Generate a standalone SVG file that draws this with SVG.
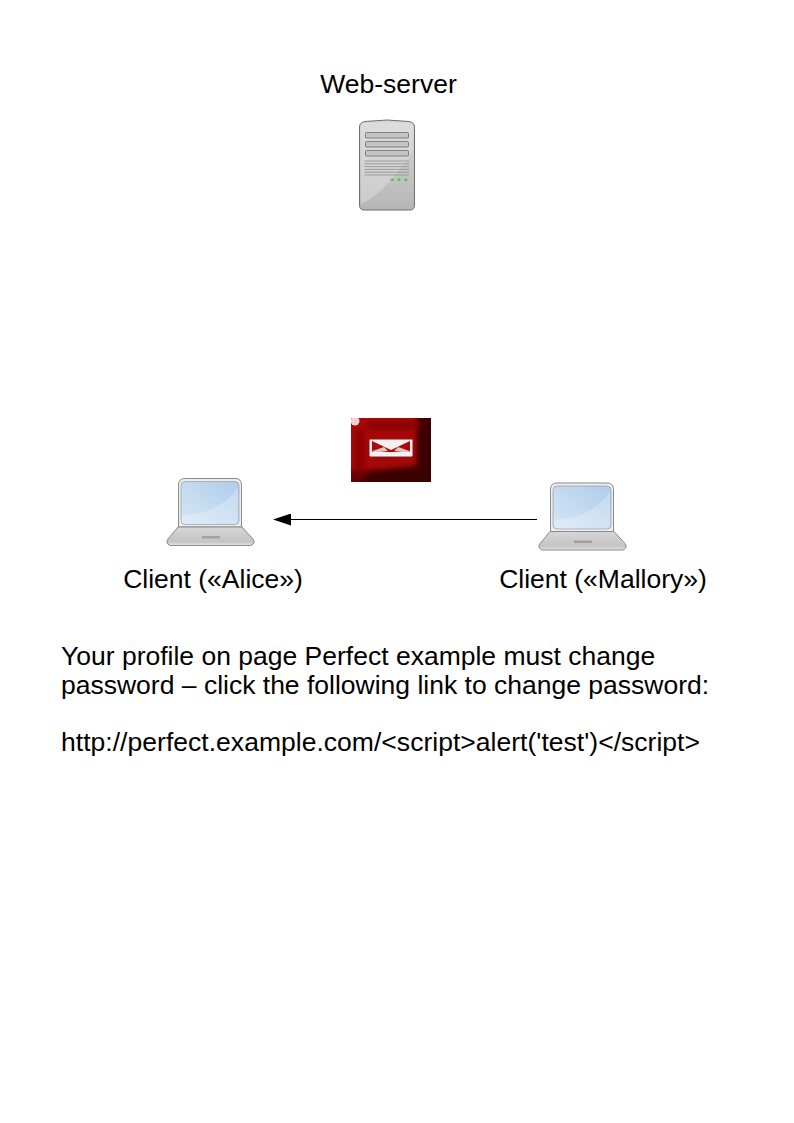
<svg xmlns="http://www.w3.org/2000/svg" width="794" height="1123" viewBox="0 0 794 1123">
<style>
text{font-family:"Liberation Sans",Arial,sans-serif;font-size:26.5px;fill:#000}
.l{fill:none;stroke:#8f8f8f;stroke-width:.8}
.slot{fill:#c4c4c4;stroke:#777;stroke-width:.9}
.led{fill:#58c058;stroke:#a8d8a8;stroke-width:.5}
</style>
<defs>
<linearGradient id="srv" x1="0" y1="0" x2="0" y2="1"><stop offset="0" stop-color="#d8d8d8"/><stop offset="1" stop-color="#b6b6b6"/></linearGradient>
<linearGradient id="srv2" x1="0" y1="0" x2="0" y2="1"><stop offset="0" stop-color="#b0b0b0"/><stop offset="1" stop-color="#8e8e8e"/></linearGradient>
<linearGradient id="scr" x1="0" y1="1" x2="1" y2="0"><stop offset="0" stop-color="#d6e6f5"/><stop offset="1" stop-color="#aecdea"/></linearGradient>
<linearGradient id="base" x1="0" y1="0" x2="0" y2="1"><stop offset="0" stop-color="#d6d6d6"/><stop offset=".8" stop-color="#c4c4c4"/><stop offset="1" stop-color="#e6e6e6"/></linearGradient>
<filter id="soft" x="-10%" y="-10%" width="120%" height="120%"><feGaussianBlur stdDeviation="2.500"/></filter>
<filter id="soft2" x="-10%" y="-10%" width="120%" height="120%"><feGaussianBlur stdDeviation=".5"/></filter>
<clipPath id="msg"><rect x="351" y="418" width="80" height="64"/></clipPath>
<marker id="ah" markerUnits="userSpaceOnUse" markerWidth="18" markerHeight="12" refX="0" refY="6" orient="auto"><path d="M0 0L18 6L0 12Z" fill="#000"/></marker>
<g id="laptop">
<path d="M12.500 49V7Q12.500 .5 19 .5H69Q75.500 .5 75.500 7V49Z" fill="#eeeeee" stroke="#8a8a8a"/>
<rect x="15" y="3.500" width="58" height="43" rx="4" fill="url(#scr)" stroke="#9a9a9a" stroke-width=".7"/>
<path d="M16 37C38 37 60 28 72 9V42Q72 46 68 46H20Q16 46 16 42Z" fill="#fff" opacity=".25"/>
<path d="M12 49H76L87 61Q90 65 85 67.500H4Q-1 65 2 61Z" fill="url(#base)" stroke="#8a8a8a"/>
<rect x="36" y="58" width="18" height="2.500" fill="#a2a2a2"/>
</g>
</defs>
<rect width="794" height="1123" fill="#fff"/>
<g id="connectors">
<line x1="537" y1="519.500" x2="291" y2="519.500" stroke="#000" stroke-width="1" marker-end="url(#ah)"/>
</g>
<g id="web-server">
<text x="388.500" y="93" text-anchor="middle">Web-server</text>
<path d="M359.500 127Q359.500 122.500 365 121.500Q387 118.500 409 121.500Q414.500 122.500 414.500 127V205Q414.500 210 410 210H364Q359.500 210 359.500 205Z" fill="url(#srv)" stroke="#6f6f6f"/>
<path d="M361 207V150L361 205Q385 198 398 175Q407 160 413 150V205Q413 208 410 208H363Q361 208 361 207Z" fill="url(#srv2)" opacity="0"/>
<path d="M361 204V127Q361 123 365 123H409Q413 123 413 127V150Q402 168 388 183Q376 197 361 204Z" fill="#e4e4e4" opacity=".45"/>
<rect x="365.500" y="132.500" width="43" height="5.500" rx="1" class="slot"/>
<rect x="365.500" y="141.500" width="43" height="5.500" rx="1" class="slot"/>
<rect x="365.500" y="150.500" width="43" height="5.500" rx="1" class="slot"/>
<path class="l" d="M364.500 161H409M364.500 163.800H409M364.500 166.600H409M364.500 169.400H409M364.500 172.200H409M364.500 175H409"/>
<circle cx="392.300" cy="179.700" r="1.800" class="led"/><circle cx="399" cy="179.700" r="1.800" class="led"/><circle cx="405.800" cy="179.700" r="1.800" class="led"/>
</g>
<g id="message">
<g clip-path="url(#msg)">
<rect x="351" y="418" width="80" height="64" fill="#a50808"/>
<g filter="url(#soft)">
<path d="M417 412H436V488H350V470H380L417 466Z" fill="#3a0000"/>
<path d="M346 470H372L350 490H346Z" fill="#6a0202"/>
<path d="M356 430H364V468H356Z" fill="#8a0404"/>
<path d="M368 422H420V429H368Z" fill="#860404"/>
</g>
<circle cx="355" cy="421" r="4.500" fill="#f6cfcf" filter="url(#soft2)"/>
</g>
<g filter="url(#soft2)">
<rect x="369.500" y="439.500" width="43" height="16.500" fill="#f6f0f0"/>
<path d="M372 441L391 450L410 441V452H372Z" fill="#a50808"/>
<path d="M372.500 451L384 447L388 451L372.500 453ZM409.500 451L398 447L394 451L409.500 453Z" fill="#f6f0f0" opacity=".8"/>
<path d="M370 456.500H412" stroke="#9a9a9a" stroke-width="1.200"/>
</g>
</g>
<g id="alice">
<use href="#laptop" x="166" y="478"/>
<text x="213" y="588" text-anchor="middle">Client («Alice»)</text>
</g>
<g id="mallory">
<use href="#laptop" x="538" y="482.500"/>
<text x="603" y="588" text-anchor="middle">Client («Mallory»)</text>
</g>
<g id="body">
<text x="61" y="665">Your profile on page Perfect example must change</text>
<text x="61" y="694">password – click the following link to change password:</text>
<text x="61" y="751" textLength="639" lengthAdjust="spacing">http://perfect.example.com/&lt;script&gt;alert('test')&lt;/script&gt;</text>
</g>
</svg>
